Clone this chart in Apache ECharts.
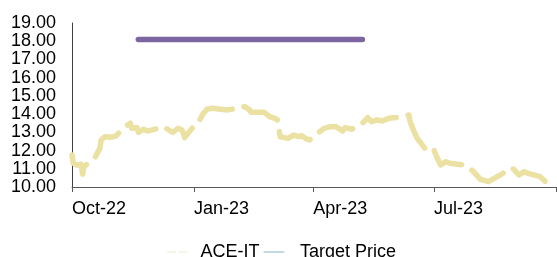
<!DOCTYPE html>
<html>
<head>
<meta charset="utf-8">
<script src="https://cdn.jsdelivr.net/npm/echarts@6/dist/echarts.min.js"></script>
<style>
html,body{margin:0;padding:0;background:#fff;}
#chart{width:557px;height:257px;}
</style>
</head>
<body>
<div id="chart"></div>
<script>
// ---- data ----
var startDate = '2022-10-01';
var endDate = '2023-10-01';
var tickMonths = ['01', '04', '07', '10'];
var monthNames = {'01': 'Jan', '04': 'Apr', '07': 'Jul', '10': 'Oct'};
var yTicks = [10, 11, 12, 13, 14, 15, 16, 17, 18, 19];

var aceDates = [
  '2022-10-01','2022-10-02','2022-10-05','2022-10-08','2022-10-09','2022-10-10','2022-10-13',
  '2022-10-18','2022-10-22','2022-10-23','2022-10-26','2022-10-31','2022-11-03',
  '2022-11-10','2022-11-14','2022-11-15','2022-11-19','2022-11-20','2022-11-24','2022-11-27',
  '2022-12-09','2022-12-13','2022-12-16','2022-12-20','2022-12-23','2022-12-25',
  '2023-01-01','2023-01-04','2023-01-08','2023-01-11','2023-01-15',
  '2023-01-26','2023-02-03','2023-02-08','2023-02-12','2023-02-13',
  '2023-02-23','2023-02-27','2023-03-03','2023-03-05','2023-03-07',
  '2023-03-13','2023-03-17','2023-03-21','2023-03-23','2023-03-26','2023-03-29',
  '2023-04-09','2023-04-14','2023-04-18','2023-04-20','2023-04-23','2023-04-25','2023-04-30',
  '2023-05-08','2023-05-12','2023-05-15','2023-05-19','2023-05-23','2023-05-28',
  '2023-06-07','2023-06-12','2023-06-13','2023-06-16','2023-06-18',
  '2023-06-26','2023-07-01','2023-07-03','2023-07-06','2023-07-10','2023-07-13',
  '2023-07-23','2023-07-27','2023-08-01','2023-08-05','2023-08-11',
  '2023-08-22','2023-08-26','2023-08-30','2023-09-03','2023-09-07','2023-09-10',
  '2023-09-19','2023-09-23','2023-09-27','2023-10-01'
];
var aceValues = [
  11.76,11.30,11.20,11.25,10.70,11.11,11.30,
  11.57,12.12,12.58,12.76,12.73,12.80,
  13.31,13.50,13.22,13.26,13.00,13.17,13.07,
  13.31,13.13,13.00,13.22,13.13,12.71,
  13.36,13.50,14.04,14.28,14.32,
  14.23,14.32,14.41,14.23,14.10,
  14.10,13.86,13.77,13.68,12.76,
  12.67,12.85,12.76,12.82,12.67,12.58,
  13.22,13.31,13.31,13.22,13.07,13.26,13.17,
  13.50,13.80,13.58,13.68,13.62,13.77,
  13.86,13.95,13.58,13.04,12.71,
  11.94,12.03,11.66,11.21,11.39,11.30,
  11.21,11.11,10.75,10.42,10.29,
  10.75,11.03,10.99,10.66,10.84,10.75,
  10.57,10.29,10.20,10.11
];
var targetDates = ['2022-11-20', '2023-05-08'];
var targetValues = [18.1, 18.1];

// ---- build ----
function pad(n){ return (n < 10 ? '0' : '') + n; }
var categories = [];
(function(){
  var d = new Date(startDate + 'T00:00:00Z');
  var e = new Date(endDate + 'T00:00:00Z');
  while (d <= e) {
    categories.push(d.getUTCFullYear() + '-' + pad(d.getUTCMonth() + 1) + '-' + pad(d.getUTCDate()));
    d = new Date(d.getTime() + 86400000);
  }
})();
function isQuarterStart(v){
  return v.slice(8) === '01' && tickMonths.indexOf(v.slice(5, 7)) >= 0;
}
var aceData = aceDates.map(function(d, i){ return [d, aceValues[i]]; });
var targetData = targetDates.map(function(d, i){ return [d, targetValues[i]]; });

var font = '"Liberation Sans", Arial, sans-serif';
var chart = echarts.init(document.getElementById('chart'), null, {renderer: 'canvas'});
chart.setOption({
  animation: false,
  backgroundColor: '#ffffff',
  grid: {left: 72, right: 1, top: 23, bottom: 70, containLabel: false},
  xAxis: {
    type: 'category',
    data: categories,
    boundaryGap: false,
    axisLine: {show: true, lineStyle: {color: '#595959', width: 1}},
    axisTick: {
      show: true, length: 5, lineStyle: {color: '#595959'},
      interval: function(i, v){ return isQuarterStart(v); }
    },
    axisLabel: {
      interval: function(i, v){ return isQuarterStart(v) && i < categories.length - 1; },
      formatter: function(v){ return monthNames[v.slice(5, 7)] + '-' + v.slice(2, 4); },
      align: 'left', margin: 13,
      color: '#000000', fontFamily: font, fontSize: 18
    },
    splitLine: {show: false}
  },
  yAxis: {
    type: 'value',
    min: yTicks[0], max: yTicks[yTicks.length - 1], interval: 1,
    axisLine: {show: true, lineStyle: {color: '#404040', width: 1}},
    axisTick: {show: false},
    axisLabel: {
      formatter: function(v){ return v.toFixed(2); },
      margin: 16, color: '#000000', fontFamily: font, fontSize: 18
    },
    splitLine: {show: false}
  },
  legend: {
    left: 162, top: 238,
    itemWidth: 20, itemHeight: 12, itemGap: 4,
    textStyle: {color: '#000000', fontFamily: font, fontSize: 18},
    data: [
      {name: 'ACE-IT',
       itemStyle: {opacity: 0},
       lineStyle: {color: '#f1ead0', width: 1, type: [8, 4]},
       textStyle: {padding: [0, 0, 0, 8]}},
      {name: 'Target Price',
       itemStyle: {opacity: 0},
       lineStyle: {color: '#86b6c6', width: 1, type: 'solid'},
       textStyle: {padding: [0, 0, 0, 11]}}
    ]
  },
  series: [
    {
      name: 'ACE-IT', type: 'line', data: aceData,
      symbol: 'none', smooth: false,
      lineStyle: {color: '#ebe1a3', width: 5.5, type: [38, 12], cap: 'round', join: 'round', dashOffset: 0},
      itemStyle: {color: '#ebe1a3'}
    },
    {
      name: 'Target Price', type: 'line', data: targetData,
      symbol: 'none',
      lineStyle: {color: '#7c65a1', width: 5.5, cap: 'round'},
      itemStyle: {color: '#7c65a1'}
    }
  ]
});
</script>
</body>
</html>
